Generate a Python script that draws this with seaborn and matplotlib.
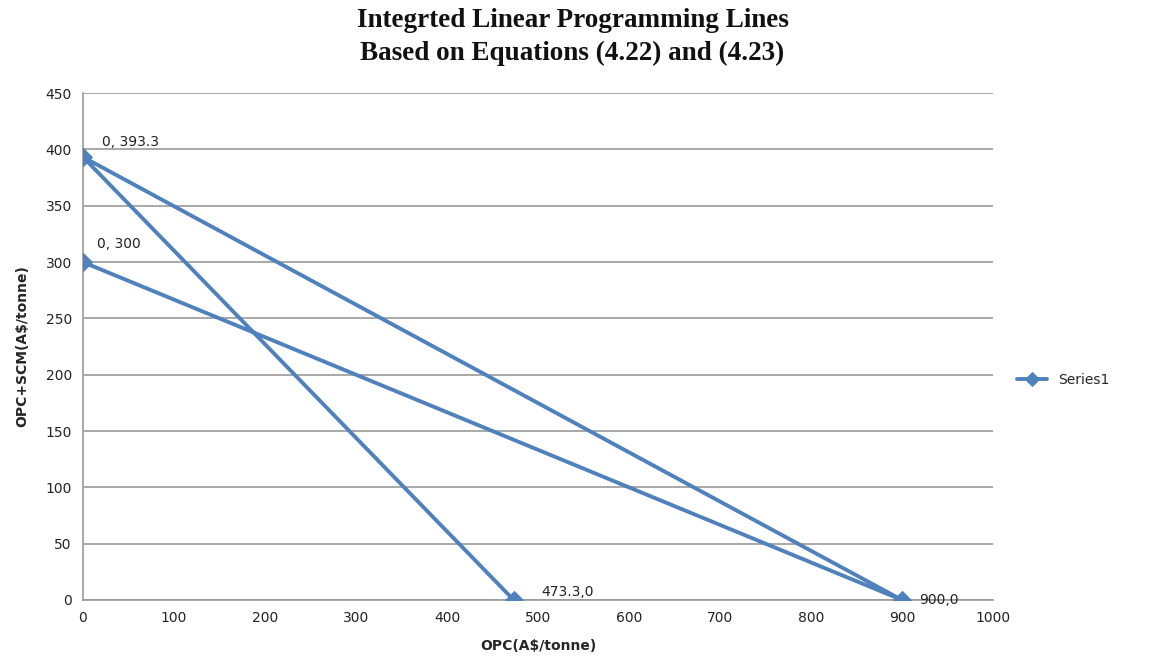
import matplotlib
matplotlib.use("Agg")
import matplotlib.pyplot as plt
import seaborn as sns
import pandas as pd

# Vertices of the constraint lines, drawn as one connected series
opc = [473.3, 0, 900, 0]
opc_scm = [0, 393.3, 0, 300]
point_labels = ["473.3,0", "0, 393.3", "900,0", "0, 300"]
series_name = "Series1"

x_ticks = [0, 100, 200, 300, 400, 500, 600, 700, 800, 900, 1000]
y_ticks = [0, 50, 100, 150, 200, 250, 300, 350, 400, 450]

df = pd.DataFrame({"OPC": opc, "OPC+SCM": opc_scm, "series": series_name})

sns.set_style("white")
plt.rcParams["font.family"] = ["DejaVu Sans"]

blue = "#4F81BD"
fig = plt.figure(figsize=(11.52, 6.70), dpi=100)
ax = fig.add_axes([0.072, 0.1045, 0.79, 0.7565])

sns.lineplot(data=df, x="OPC", y="OPC+SCM", hue="series", palette=[blue],
             sort=False, estimator=None, marker="D", markersize=9,
             markeredgecolor=blue, linewidth=2.8, ax=ax, zorder=3)

# Data labels next to each vertex
offsets = {"473.3,0": (20, 1), "0, 393.3": (14, 6), "900,0": (12, 0), "0, 300": (10, 8)}
for x, y, lab in zip(opc, opc_scm, point_labels):
    dx, dy = offsets[lab]
    ax.annotate(lab, (x, y), xytext=(dx, dy), textcoords="offset points",
                fontsize=10, color="#222222", va="bottom" if dy > 0 else "center",
                ha="left", zorder=4)

ax.set_xlim(0, 1000)
ax.set_ylim(0, 450)
ax.set_xticks(x_ticks)
ax.set_yticks(y_ticks)
ax.tick_params(axis="both", length=0, labelsize=10, colors="#222222", pad=8)
ax.yaxis.grid(True, color="#9a9a9a", linewidth=1.2)
ax.xaxis.grid(False)
for side in ("top", "right"):
    ax.spines[side].set_visible(False)
for side in ("left", "bottom"):
    ax.spines[side].set_color("#9a9a9a")
    ax.spines[side].set_linewidth(1.2)

ax.set_xlabel("OPC(A$/tonne)", fontsize=10, fontweight="bold", labelpad=10)
ax.set_ylabel("OPC+SCM(A$/tonne)", fontsize=10, fontweight="bold", labelpad=12)

fig.suptitle("Integrted Linear Programming Lines\nBased on Equations (4.22) and (4.23)",
             x=0.497, y=0.988, va="top", fontsize=19.5, fontweight="bold",
             family="Liberation Serif", linespacing=1.42, color="#111111")

leg = ax.legend(loc="center left", bbox_to_anchor=(1.02, 0.434), frameon=False,
                fontsize=10, handlelength=2.2, borderaxespad=0)
for h in leg.legend_handles:
    h.set_markersize(7)

fig.savefig("out.png", dpi=100)
